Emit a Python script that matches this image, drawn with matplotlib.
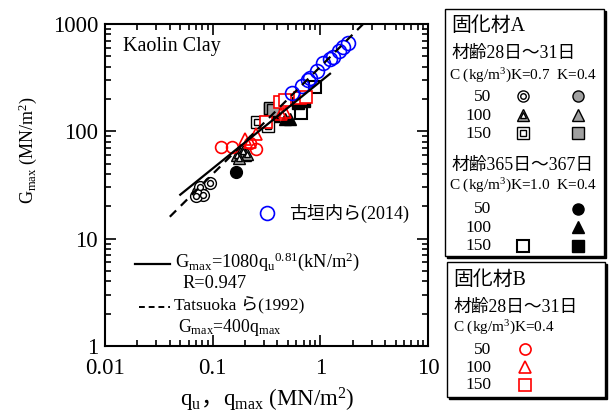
import numpy as np
import matplotlib
matplotlib.use("Agg")
import matplotlib.pyplot as plt
from matplotlib.patches import Rectangle

plt.rcParams["font.family"] = ["Liberation Serif", "Noto Sans CJK JP"]
plt.rcParams["mathtext.fontset"] = "custom"
plt.rcParams["mathtext.rm"] = "Liberation Serif"
plt.rcParams["mathtext.it"] = "Liberation Serif"
plt.rcParams["mathtext.sf"] = "Noto Sans CJK JP"

# Data (q in MN/m2, G in MN/m2)
furu_q = [0.54, 0.68, 0.76, 0.80, 0.93, 1.06, 1.22, 1.32, 1.50, 1.64, 1.82]
furu_g = [229, 263, 300, 314, 365, 432, 472, 493, 562, 610, 665]

b50_q = [0.12, 0.15, 0.22, 0.25]
b50_g = [72, 72, 78, 68]
b100_q = [0.20, 0.22, 0.25, 0.43, 0.47]
b100_g = [85, 80, 95, 145, 150]
b150_q = [0.31, 0.42, 0.47, 0.65, 0.74]
b150_g = [123, 189, 196, 204, 211]

a28k7_50_q = [0.073, 0.076, 0.082, 0.094, 0.070]
a28k7_50_g = [27, 30.5, 25.6, 33, 25.0]
a28k7_100_q = [0.17, 0.19, 0.21, 0.175]
a28k7_100_g = [60, 65, 61, 57]
a28k7_150_q = [0.26, 0.33]
a28k7_150_g = [123, 113]
a28k4_100_q = [0.18, 0.20]
a28k4_100_g = [63, 60]
a28k4_150_q = [0.34, 0.36]
a28k4_150_g = [165, 158]

a365k10_150_q = [0.66, 0.89]
a365k10_150_g = [147, 258]
a365k4_50_q = [0.165]
a365k4_50_g = [42]
a365k4_100_q = [0.37, 0.47, 0.52]
a365k4_100_g = [140, 130, 130]
a365k4_150_q = [0.34, 0.62, 0.70]
a365k4_150_g = [160, 185, 190]

fit_q = [0.05, 1.23]
tatsu_q = [0.04, 2.5]

red = "#ff0000"
blue = "#0000ff"
gray = "#a0a0a0"


def double(ax, x, y, m, ms, ring="white"):
    ax.plot(x, y, m, ms=ms, mfc=ring, mec="black", mew=1.0, ls="none")
    ax.plot(x, y, m, ms=ms * 0.5, mfc="white", mec="black", mew=1.0, ls="none")


fig = plt.figure(figsize=(6.11, 4.16), dpi=100)
ax = fig.add_axes([105 / 611, 70 / 416, 323 / 611, 322 / 416])
ax.set_xscale("log")
ax.set_yscale("log")
ax.set_xlim(0.01, 10)
ax.set_ylim(1, 1000)

q = np.array(fit_q)
ax.plot(q, 1080 * (q * 1000) ** 0.81 / 1000, "k-", lw=1.6, zorder=5)
q = np.array(tatsu_q)
ax.plot(q, 400 * q, "k--", lw=1.6, dashes=(4, 3), zorder=5)

ms = 8.5
# 365 day series
ax.plot(a365k10_150_q, a365k10_150_g, "s", ms=ms, mfc="white", mec="black", mew=1.5, ls="none")
ax.plot(a365k4_50_q, a365k4_50_g, "o", ms=ms, color="black", ls="none")
ax.plot(a365k4_100_q, a365k4_100_g, "^", ms=ms, color="black", ls="none")
ax.plot(a365k4_150_q, a365k4_150_g, "s", ms=ms, color="black", ls="none")
# 28 day series, type A
ax.plot(a28k4_100_q, a28k4_100_g, "^", ms=ms, mfc=gray, mec="black", ls="none")
ax.plot(a28k4_150_q, a28k4_150_g, "s", ms=ms, mfc=gray, mec="black", ls="none")
double(ax, a28k7_50_q, a28k7_50_g, "o", ms)
double(ax, a28k7_100_q, a28k7_100_g, "^", ms, ring=gray)
double(ax, a28k7_150_q, a28k7_150_g, "s", ms)
# type B
ax.plot(b50_q, b50_g, "o", ms=ms, mfc="none", mec=red, mew=1.2, ls="none")
ax.plot(b100_q, b100_g, "^", ms=ms, mfc="none", mec=red, mew=1.2, ls="none")
ax.plot(b150_q, b150_g, "s", ms=ms, mfc="white", mec=red, mew=1.2, ls="none")
ax.plot(furu_q, furu_g, "o", ms=10, mfc="none", mec=blue, mew=1.2, ls="none")

ax.set_xticks([0.01, 0.1, 1, 10])
ax.set_xticklabels(["0.01", "0.1", "1", "10"])
ax.set_yticks([1, 10, 100, 1000])
ax.set_yticklabels(["1", "10", "100", "1000"])
ax.tick_params(which="both", direction="in", top=True, right=True, width=1.2)
ax.tick_params(which="major", length=8, labelsize=16.5, pad=5)
ax.tick_params(axis="x", which="major", pad=9)
ax.tick_params(which="minor", length=4)
for s in ax.spines.values():
    s.set_linewidth(1.5)

# overlay in pixel coordinates for labels, annotations and legend boxes
ov = fig.add_axes([0, 0, 1, 1])
ov.set_xlim(0, 611)
ov.set_ylim(416, 0)
ov.axis("off")

ov.text(28, 150, r"G$_\mathrm{max}$ (MN/m$^2$)", fontsize=13, rotation=90,
        ha="center", va="center")
ov.text(267, 400, r"q$_\mathrm{u}$$\mathsf{，}$q$_\mathrm{max}$ (MN/m$^2$)", fontsize=16.5,
        ha="center", va="center")

ov.text(123, 46, "Kaolin Clay", fontsize=14.5, va="center")
ov.plot([267], [213], "o", ms=10, mfc="none", mec=blue, mew=1.2)
ov.text(289, 213, "古垣内ら(2014)", fontsize=13, va="center")
ov.plot([135, 170], [264, 264], "k-", lw=1.6)
ov.text(175, 262, r"G$_\mathrm{max}$=1080q$_\mathrm{u}$$^{0.81}$(kN/m$^2$)", fontsize=13.2, va="center")
ov.text(182, 283, "R=0.947", fontsize=13.2, va="center")
ov.plot([139, 170], [307, 307], "k--", lw=1.4, dashes=(3, 2))
ov.text(174, 306, "Tatsuoka ら(1992)", fontsize=12.5, va="center")
ov.text(178, 327, r"G$_\mathrm{max}$=400q$_\mathrm{max}$", fontsize=12.8, va="center")

for (x0, y0, x1, y1) in [(445, 9, 604, 256), (447, 262, 605, 397)]:
    ov.add_patch(Rectangle((x0 + 2, y0 + 2), x1 - x0, y1 - y0, fc="black", ec="black", lw=1))
    ov.add_patch(Rectangle((x0, y0), x1 - x0, y1 - y0, fc="white", ec="black", lw=1))

ov.text(451, 26, "固化材A", fontsize=14.3, va="center")
ov.text(451, 53, "材齢28日～31日", fontsize=12.8, va="center")
ov.text(449, 76, r"C (kg/m$^3$)K=0.7  K=0.4", fontsize=11, va="center")
for lab, y in zip(["50", "100", "150"], [97, 116, 134]):
    ov.text(491, y, lab, fontsize=12.5, va="center", ha="right")
double(ov, [523], [96], "o", 8)
double(ov, [523], [115], "^", 8, ring=gray)
double(ov, [523], [133], "s", 8)
ov.plot([578], [96], "o", ms=8, mfc=gray, mec="black")
ov.plot([578], [115], "^", ms=8, mfc=gray, mec="black")
ov.plot([578], [133], "s", ms=8, mfc=gray, mec="black")

ov.text(451, 165, "材齢365日～367日", fontsize=12.8, va="center")
ov.text(449, 186, r"C (kg/m$^3$)K=1.0  K=0.4", fontsize=11, va="center")
for lab, y in zip(["50", "100", "150"], [209, 228, 246]):
    ov.text(491, y, lab, fontsize=12.5, va="center", ha="right")
ov.plot([523], [246], "s", ms=8, mfc="white", mec="black", mew=1.5)
ov.plot([578], [209], "o", ms=8, color="black")
ov.plot([578], [227], "^", ms=8, color="black")
ov.plot([578], [246], "s", ms=8, color="black")

ov.text(453, 280, "固化材B", fontsize=14.3, va="center")
ov.text(453, 307, "材齢28日～31日", fontsize=12.8, va="center")
ov.text(453, 328, r"C (kg/m$^3$)K=0.4", fontsize=11, va="center")
for lab, y in zip(["50", "100", "150"], [350, 368, 385]):
    ov.text(491, y, lab, fontsize=12.5, va="center", ha="right")
ov.plot([525], [349], "o", ms=8, mfc="none", mec=red, mew=1.2)
ov.plot([525], [367], "^", ms=8, mfc="none", mec=red, mew=1.2)
ov.plot([525], [385], "s", ms=8, mfc="none", mec=red, mew=1.2)

fig.savefig("out.png", dpi=100)
